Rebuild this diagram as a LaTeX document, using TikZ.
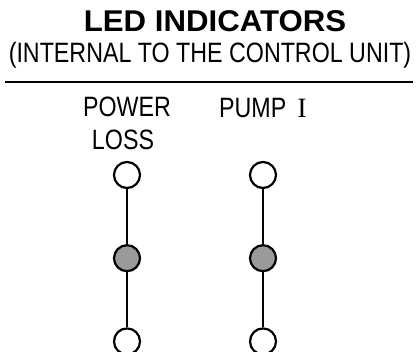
\documentclass[tikz,border=0pt]{standalone}
\usepackage{fontspec}
\setmainfont{Liberation Sans}[FakeStretch=0.83]
\newfontfamily\titlefont{Liberation Sans Bold}[FakeStretch=1.04]
\newfontfamily\numeralfont{Liberation Serif}
\usepackage{xcolor}
\definecolor{ledgray}{HTML}{9A9A9C}
\usepackage{tikz}
\usetikzlibrary{positioning}

\begin{document}
\begin{tikzpicture}[x = 1pt, y = -1pt, node distance = 55pt,
    font = \fontsize{28}{33}\selectfont,
    led/.style = {circle, minimum size = 26pt, inner sep = 0pt,
        line width = 2.2pt, draw = black, fill = white},
    ledon/.style = {led, fill = ledgray},
    caption/.style = {anchor = base, inner sep = 0pt}]
    \useasboundingbox (0,0) rectangle (416,352);
    % heading
    \node (T) [caption, font = \titlefont\fontsize{30}{36}\selectfont] at (215,32) {LED INDICATORS};
    \node (ST) [caption] at (210,63) {(INTERNAL TO THE CONTROL UNIT)};
    \coordinate (RL) at (5,82);
    \coordinate (RR) at (413,82);
    \draw [line width = 2pt] (RL) -- (RR);
    % labels
    \node (PW) [caption] at (127,117) {POWER};
    \node (PWL) [caption] at (123,150) {LOSS};
    \node (PU) [caption] at (263,118) {PUMP\,\ {\numeralfont I}};
    % power loss leds
    \node (P1) [led] at (127,175) {};
    \node (P2) [ledon, below = of P1] {};
    \node (P3) [led, below = of P2] {};
    % pump leds
    \node (Q1) [led] at (263,175) {};
    \node (Q2) [ledon, below = of Q1] {};
    \node (Q3) [led, below = of Q2] {};
    \draw [line width = 2.2pt] (P1) -- (P2) -- (P3);
    \draw [line width = 2.2pt] (Q1) -- (Q2) -- (Q3);
\end{tikzpicture}
\end{document}
